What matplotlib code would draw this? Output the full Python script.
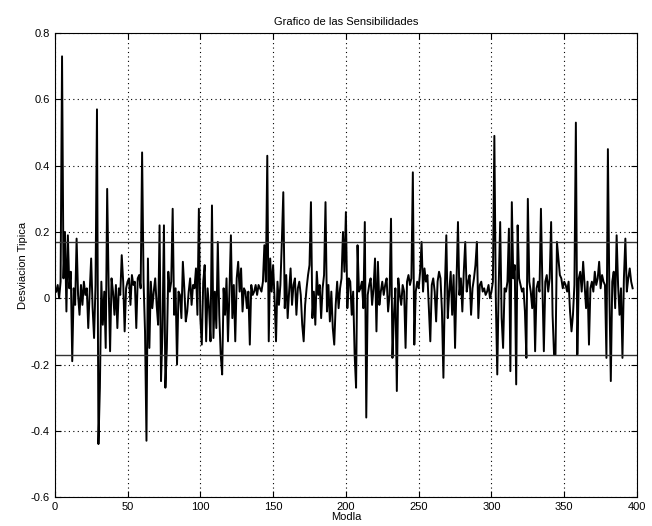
import numpy as np
import matplotlib.pyplot as plt

plt.rcParams['font.family'] = ['Liberation Sans', 'DejaVu Sans']

# valores (modo 1..397)
desv = [
    0.02, 0.04, 0.00, 0.05, 0.73, 0.06, 0.20, -0.04, 0.19, 0.03,
    0.08, -0.19, 0.03, -0.02, 0.18, 0.01, -0.05, 0.04, -0.02, 0.05,
    0.01, 0.03, -0.09, 0.02, 0.12, -0.03, -0.12, 0.04, 0.57, -0.44,
    -0.27, 0.05, -0.08, 0.02, -0.15, 0.33, 0.04, -0.16, 0.06, 0.02,
    -0.05, 0.04, -0.09, 0.03, 0.01, 0.13, 0.05, -0.10, 0.03, 0.05,
    0.06, -0.02, 0.07, 0.04, 0.05, -0.09, 0.06, 0.07, 0.03, 0.44,
    0.05, -0.10, -0.43, 0.12, -0.15, 0.05, -0.03, 0.02, 0.06, -0.02,
    -0.08, 0.22, -0.25, -0.10, 0.22, -0.27, -0.15, 0.08, 0.02, 0.05,
    0.27, -0.05, 0.03, -0.20, 0.02, 0.01, -0.06, 0.11, 0.03, -0.07,
    -0.04, 0.02, 0.06, -0.02, 0.04, 0.03, 0.09, -0.05, 0.27, -0.06,
    -0.14, 0.05, 0.10, -0.13, 0.03, -0.03, -0.13, 0.28, -0.12, 0.02,
    -0.09, 0.17, -0.05, -0.17, -0.23, 0.03, -0.05, 0.06, -0.13, 0.02,
    0.19, -0.06, 0.04, -0.13, 0.06, 0.11, 0.02, 0.09, -0.04, 0.03,
    0.02, -0.03, 0.02, -0.14, 0.04, 0.01, 0.02, 0.04, 0.01, 0.04,
    0.03, 0.02, 0.05, 0.16, 0.05, 0.43, -0.13, 0.12, 0.02, 0.10,
    0.00, -0.13, 0.05, -0.02, 0.04, 0.17, 0.32, -0.03, 0.07, -0.06,
    0.02, 0.09, -0.02, 0.04, 0.06, -0.05, 0.03, 0.05, 0.01, -0.08,
    -0.13, -0.02, 0.03, 0.07, 0.10, 0.29, -0.06, 0.02, -0.08, 0.08,
    0.01, 0.04, -0.06, 0.03, 0.07, 0.29, -0.04, 0.04, -0.07, 0.02,
    -0.09, -0.14, -0.02, 0.05, -0.03, 0.03, 0.06, 0.20, 0.08, 0.26,
    -0.03, 0.06, 0.05, -0.05, 0.02, -0.17, -0.27, 0.16, 0.02, 0.03,
    0.05, -0.03, 0.23, -0.36, 0.01, 0.04, 0.06, -0.02, 0.03, 0.12,
    -0.10, 0.11, -0.02, 0.02, 0.05, 0.01, 0.04, 0.06, -0.04, 0.01,
    0.24, -0.18, -0.05, 0.03, -0.28, 0.06, 0.01, -0.02, 0.04, 0.02,
    -0.15, 0.05, 0.07, 0.04, 0.06, 0.38, -0.14, 0.02, 0.05, 0.03,
    0.08, 0.17, 0.02, 0.09, 0.05, 0.07, -0.03, -0.13, 0.04, 0.06,
    0.02, -0.07, 0.05, 0.08, 0.06, -0.04, -0.24, 0.03, 0.19, -0.06,
    0.02, 0.08, -0.05, 0.07, -0.15, 0.05, 0.23, 0.01, 0.06, -0.04,
    0.08, 0.17, 0.02, 0.05, 0.07, -0.05, 0.03, 0.06, 0.10, 0.17,
    -0.06, 0.04, 0.05, 0.02, 0.03, 0.01, 0.02, 0.04, 0.00, 0.02,
    0.05, 0.49, 0.00, -0.23, 0.04, 0.23, -0.06, -0.15, 0.03, 0.02,
    0.05, 0.21, -0.22, 0.29, 0.06, 0.10, -0.26, 0.22, 0.06, 0.04,
    0.02, 0.03, -0.04, -0.18, 0.30, 0.05, 0.02, -0.03, 0.06, -0.16,
    0.03, 0.05, 0.02, 0.27, 0.04, -0.16, 0.05, 0.07, 0.02, 0.06,
    0.23, -0.05, -0.17, -0.17, 0.17, 0.12, 0.07, 0.06, 0.03, 0.05,
    0.04, 0.02, 0.05, -0.04, -0.10, -0.05, 0.04, 0.53, -0.17, 0.06,
    0.08, 0.02, 0.11, 0.04, -0.03, 0.05, -0.14, 0.03, 0.05, 0.02,
    0.08, 0.04, 0.06, 0.11, 0.03, 0.07, 0.05, 0.04, -0.18, 0.45,
    0.02, -0.25, 0.05, 0.08, -0.03, 0.19, 0.04, -0.05, 0.03, -0.18,
    0.06, 0.18, 0.02, 0.06, 0.09, 0.05, 0.03,
]
modos = np.arange(1, len(desv) + 1)
umbral = 0.17

xticks = [0, 50, 100, 150, 200, 250, 300, 350, 400]
yticks = [-0.6, -0.4, -0.2, 0, 0.2, 0.4, 0.6, 0.8]
ylabels = ["-0.6", "-0.4", "-0.2", "0", "0.2", "0.4", "0.6", "0.8"]

fig = plt.figure(figsize=(6.52, 5.26), dpi=100)
ax = fig.add_axes([0.084, 0.055, 0.893, 0.882])

ax.plot(modos, desv, color="black", linewidth=1.4)
ax.axhline(umbral, color="#333333", linewidth=1.0)
ax.axhline(-umbral, color="#333333", linewidth=1.0)

ax.set_xlim(0, 400)
ax.set_ylim(-0.6, 0.8)
ax.set_xticks(xticks)
ax.set_yticks(yticks)
ax.set_yticklabels(ylabels)
ax.tick_params(direction="in", top=True, right=True, labelsize=8, length=4)
ax.grid(True, linestyle=(0, (1, 3)), color="black", linewidth=0.8)

ax.set_title("Grafico de las Sensibilidades", fontsize=8, pad=6)
ax.set_xlabel("Modla", fontsize=8, labelpad=0)
ax.set_ylabel("Desviacion Tipica", fontsize=8, labelpad=2)

fig.savefig("out.png", dpi=100)
